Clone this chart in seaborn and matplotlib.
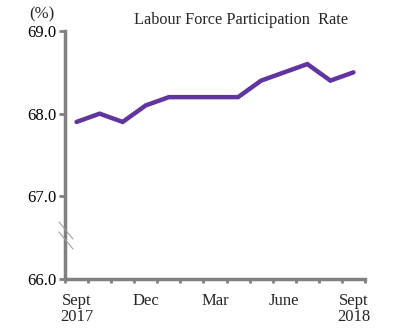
import matplotlib
matplotlib.use("Agg")
import matplotlib.pyplot as plt
import seaborn as sns
import pandas as pd
import numpy as np

months = ["Sept", "Oct", "Nov", "Dec", "Jan", "Feb", "Mar",
          "Apr", "May", "June", "July", "Aug", "Sept"]
rate = [67.9, 68.0, 67.9, 68.1, 68.2, 68.2, 68.2,
        68.2, 68.4, 68.5, 68.6, 68.4, 68.5]
xlabels = ["Sept\n2017", "Dec", "Mar", "June", "Sept\n2018"]
xlabel_pos = [0, 3, 6, 9, 12]
yticks = [66.0, 67.0, 68.0, 69.0]

sns.set_theme(style="white")
plt.rcParams["font.family"] = ["Liberation Serif", "DejaVu Serif"]

df = pd.DataFrame({"idx": np.arange(len(rate)), "rate": rate})

fig = plt.figure(figsize=(4.04, 3.31), dpi=100)
ax = fig.add_axes([65 / 404, 1 - 279 / 331, 300 / 404, 248 / 331])

sns.lineplot(data=df, x="idx", y="rate", ax=ax, color="#6234a0",
             linewidth=3.2, solid_joinstyle="miter", legend=False)

ax.set_xlim(-0.5, len(rate) - 0.5)
ax.set_ylim(66.0, 69.0)

grey = "#808080"
for side in ["top", "right"]:
    ax.spines[side].set_visible(False)
for side in ["left", "bottom"]:
    ax.spines[side].set_color(grey)
    ax.spines[side].set_linewidth(2.5)

ax.set_yticks(yticks)
ax.set_yticklabels([f"{v:.1f}" for v in yticks], fontsize=12, color="black")
ax.tick_params(axis="y", direction="out", length=4, width=2, color=grey, pad=2,
               left=True)

# category boundaries as x ticks, labels centred on months
ax.set_xticks(np.arange(-0.5, len(rate), 1.0))
ax.set_xticklabels([])
ax.tick_params(axis="x", direction="out", length=3, width=2, color=grey,
               bottom=True)
for p, lab in zip(xlabel_pos, xlabels):
    ax.text(p, -0.055, lab, transform=ax.get_xaxis_transform(), ha="center",
            va="top", fontsize=12, linespacing=1.05)

ax.set_xlabel("")
ax.set_ylabel("")

# axis break marks on the y-axis
for y0 in (222, 232):
    fig.add_artist(plt.Line2D([59 / 404, 73 / 404],
                              [1 - y0 / 331, 1 - (y0 + 17) / 331],
                              color="#a0a0a0", linewidth=0.8))

fig.text(42 / 404, 1 - 14 / 331, "(%)", ha="center", va="center", fontsize=12)
fig.text(241 / 404, 1 - 20 / 331, "Labour Force Participation  Rate",
         ha="center", va="center", fontsize=11.7)

fig.savefig("out.png", dpi=100)
